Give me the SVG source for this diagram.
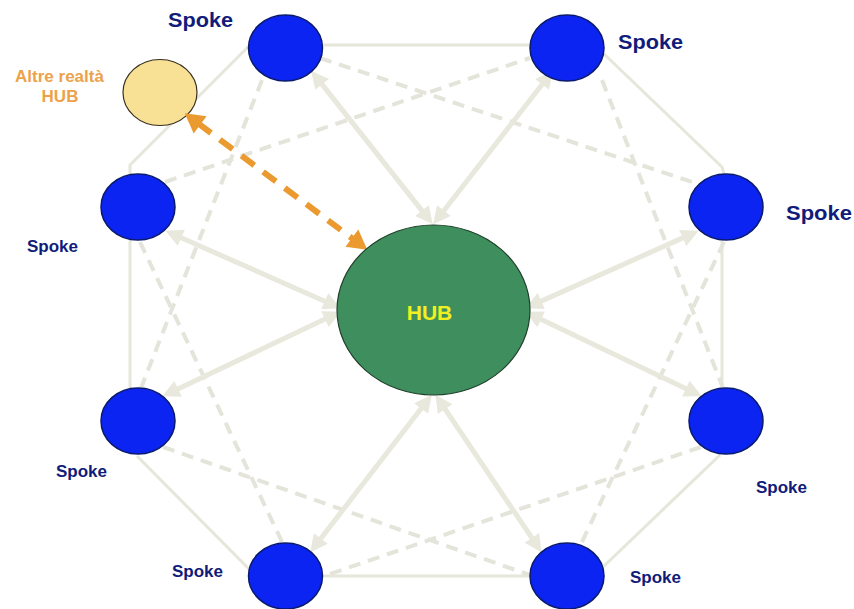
<svg xmlns="http://www.w3.org/2000/svg" width="854" height="609" viewBox="0 0 854 609">
<style>
.oct{fill:none;stroke:#E6E6DA;stroke-width:3}
.dash{fill:none;stroke:#E4E4DA;stroke-width:4;stroke-dasharray:12 8}
.arr{fill:none;stroke:#E8E8DD;stroke-width:5}
.org{fill:none;stroke:#EB9A30;stroke-width:6;stroke-dasharray:16 11}
.spoke{fill:#0B24F2;stroke:#0A1A6E;stroke-width:1.5}
.lbl{font-family:"Liberation Sans",Arial,sans-serif;font-weight:bold;fill:#111C7A}
.big{font-size:20px}
.small{font-size:17px}
</style>
<defs>
<marker id="ah" markerUnits="userSpaceOnUse" markerWidth="20" markerHeight="20" refX="2" refY="0" viewBox="0 -8 16 16" orient="auto-start-reverse" overflow="visible">
<path d="M0,-7 L14,0 L0,7 z" fill="#E8E8DD"/>
</marker>
<marker id="oh" markerUnits="userSpaceOnUse" markerWidth="24" markerHeight="24" refX="2" refY="0" viewBox="0 -10 18 20" orient="auto-start-reverse" overflow="visible">
<path d="M0,-9 L16,0 L0,9 z" fill="#EB9A30"/>
</marker>
</defs>
<rect width="854" height="609" fill="#FFFFFF"/>
<g id="connectors">
<path class="oct" d="M323,45 L530,45"/>
<path class="oct" d="M604,54 L722,167 L724,174"/>
<path class="oct" d="M722,240 L722,388"/>
<path class="oct" d="M720,455 L603,567"/>
<path class="oct" d="M323,576 L530,576"/>
<path class="oct" d="M250,570 L137,456"/>
<path class="oct" d="M130,240 L130,388"/>
<path class="oct" d="M130,174 L130,165 L250,45"/>
<path class="dash" d="M320,58 L692,182"/>
<path class="dash" d="M602,80 L723,388"/>
<path class="dash" d="M724,242 L581,544"/>
<path class="dash" d="M701,447 L327,575"/>
<path class="dash" d="M163,447 L530,575"/>
<path class="dash" d="M140,242 L283,544"/>
<path class="dash" d="M262,80 L141,388"/>
<path class="dash" d="M165,182 L530,58"/>
<path class="arr" marker-start="url(#ah)" marker-end="url(#ah)" d="M320.5,82.4 L423.5,212.6"/>
<path class="arr" marker-start="url(#ah)" marker-end="url(#ah)" d="M543.6,82.5 L442.4,212.5"/>
<path class="arr" marker-start="url(#ah)" marker-end="url(#ah)" d="M179,236.8 L327,302.2"/>
<path class="arr" marker-start="url(#ah)" marker-end="url(#ah)" d="M175.8,389.9 L327.2,318.1"/>
<path class="arr" marker-start="url(#ah)" marker-end="url(#ah)" d="M685,236.9 L539,302.1"/>
<path class="arr" marker-start="url(#ah)" marker-end="url(#ah)" d="M688.2,389.8 L538.8,318.2"/>
<path class="arr" marker-start="url(#ah)" marker-end="url(#ah)" d="M319.3,540.5 L422.7,406.5"/>
<path class="arr" marker-start="url(#ah)" marker-end="url(#ah)" d="M533.3,540 L443.7,407"/>
</g>
<g id="altre">
<ellipse cx="160" cy="92.5" rx="37" ry="33" fill="#F8E194" stroke="#3A3020" stroke-width="1.2"/>
<text x="59.5" y="82" text-anchor="middle" font-family="Liberation Sans, Arial, sans-serif" font-weight="bold" font-size="17" fill="#EDA24A">Altre realtà</text>
<text x="60" y="102" text-anchor="middle" font-family="Liberation Sans, Arial, sans-serif" font-weight="bold" font-size="17" fill="#EDA24A">HUB</text>
</g>
<g id="orange-link">
<path class="org" marker-start="url(#oh)" marker-end="url(#oh)" d="M198.2,123.4 L353.8,239.6"/>
</g>
<g id="hub">
<ellipse cx="433.5" cy="310" rx="96.5" ry="85" fill="#3F8F5E" stroke="#1F3F2A" stroke-width="1.2"/>
<text x="429.5" y="320" text-anchor="middle" font-family="Liberation Sans, Arial, sans-serif" font-weight="bold" font-size="21" fill="#F2F020">HUB</text>
</g>
<g id="spoke1">
<ellipse class="spoke" cx="285.5" cy="48" rx="37" ry="33"/>
<text class="lbl big" x="168" y="27" textLength="65" lengthAdjust="spacingAndGlyphs">Spoke</text>
</g>
<g id="spoke2">
<ellipse class="spoke" cx="567" cy="48" rx="37" ry="33"/>
<text class="lbl big" x="618" y="49" textLength="65" lengthAdjust="spacingAndGlyphs">Spoke</text>
</g>
<g id="spoke3">
<ellipse class="spoke" cx="726" cy="207" rx="37" ry="33"/>
<text class="lbl big" x="786" y="220" textLength="66" lengthAdjust="spacingAndGlyphs">Spoke</text>
</g>
<g id="spoke4">
<ellipse class="spoke" cx="138" cy="207" rx="37" ry="33"/>
<text class="lbl small" x="27" y="252">Spoke</text>
</g>
<g id="spoke5">
<ellipse class="spoke" cx="138" cy="421" rx="37" ry="33"/>
<text class="lbl small" x="56" y="477">Spoke</text>
</g>
<g id="spoke6">
<ellipse class="spoke" cx="285.5" cy="576" rx="37" ry="33"/>
<text class="lbl small" x="172" y="577">Spoke</text>
</g>
<g id="spoke7">
<ellipse class="spoke" cx="726" cy="421" rx="37" ry="33"/>
<text class="lbl small" x="756" y="493">Spoke</text>
</g>
<g id="spoke8">
<ellipse class="spoke" cx="567" cy="576" rx="37" ry="33"/>
<text class="lbl small" x="630" y="583">Spoke</text>
</g>
</svg>
